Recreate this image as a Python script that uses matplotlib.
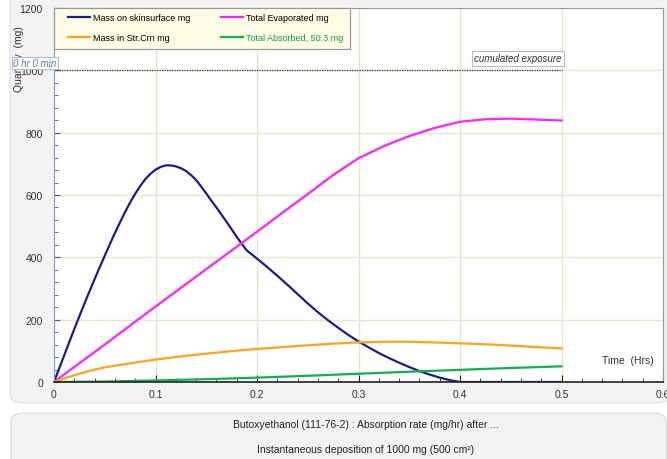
import matplotlib.pyplot as plt
import numpy as np
from matplotlib.patches import FancyBboxPatch, Rectangle
from matplotlib.ticker import MultipleLocator, AutoMinorLocator

plt.rcParams['font.family'] = ['Liberation Sans', 'DejaVu Sans']

# values
t_skin = [0, 0.01, 0.02, 0.03, 0.04, 0.045, 0.05, 0.055, 0.06, 0.065, 0.07, 0.075, 0.08,
          0.085, 0.09, 0.095, 0.10, 0.105, 0.11, 0.115, 0.12, 0.125, 0.13, 0.135, 0.14,
          0.145, 0.15, 0.155, 0.16, 0.165, 0.17, 0.175, 0.18, 0.185, 0.19, 0.20, 0.21,
          0.22, 0.23, 0.24, 0.25, 0.26, 0.27, 0.28, 0.29, 0.30, 0.31, 0.32, 0.33, 0.34,
          0.35, 0.36, 0.37, 0.38, 0.39, 0.40, 0.45, 0.50]
m_skin = [0, 85, 170, 252, 330, 368, 405, 442, 478, 512, 545, 576, 604,
          629, 651, 668, 681, 690, 695, 695, 692, 686, 677, 664, 648,
          627, 605, 582, 560, 537, 514, 490, 466, 443, 422, 396, 369,
          341, 312, 282, 252, 224, 198, 174, 151, 130, 111, 93, 77, 62,
          48, 35, 24, 14, 6, 0, 0, 0]

t_evap = [0, 0.05, 0.10, 0.15, 0.20, 0.225, 0.25, 0.275, 0.30, 0.325, 0.35, 0.375,
          0.40, 0.425, 0.45, 0.475, 0.50]
m_evap = [0, 120, 242, 362, 482, 543, 603, 664, 718, 757, 789, 815,
          835, 843, 845, 842, 839]

t_sc = [0, 0.01, 0.02, 0.03, 0.04, 0.05, 0.075, 0.10, 0.125, 0.15, 0.175, 0.20, 0.225,
        0.25, 0.275, 0.30, 0.325, 0.35, 0.375, 0.40, 0.425, 0.45, 0.475, 0.50]
m_sc = [0, 11, 22, 31, 40, 47, 60, 72, 82, 91, 99, 106, 112,
        118, 123, 127, 129, 129, 127, 124, 121, 117, 112, 108]

t_abs = [0, 0.05, 0.10, 0.15, 0.20, 0.25, 0.30, 0.35, 0.40, 0.45, 0.50]
m_abs = [0, 1.5, 5, 9, 14, 20, 26.5, 33, 39, 45, 50.3]

exposure = 1000
t_end = 0.5

fig = plt.figure(figsize=(6.67, 4.6), dpi=100)

# grey panels behind chart and caption
fig.patches.append(FancyBboxPatch((10 / 667, 56 / 460), 0.99, 0.9, boxstyle="round,pad=0,rounding_size=0.02",
                                  transform=fig.transFigure, facecolor='#f3f3f3', edgecolor='#dddddd',
                                  lw=0.8, zorder=-2))
fig.patches.append(FancyBboxPatch((11 / 667, -0.05), 655 / 667, 0.15, boxstyle="round,pad=0,rounding_size=0.02",
                                  transform=fig.transFigure, facecolor='#f3f3f3', edgecolor='#d8d8d8',
                                  lw=0.8, zorder=-2))

ax = fig.add_axes([54 / 667, 1 - 383 / 460, 609 / 667, 374 / 460])
ax.set_facecolor('white')

l_skin, = ax.plot(t_skin, m_skin, color='#1c1c8a', lw=1.6, label='Mass on skinsurface mg')
l_evap, = ax.plot(t_evap, m_evap, color='#ff22ff', lw=1.6, label='Total Evaporated mg')
l_sc, = ax.plot(t_sc, m_sc, color='#ffa31a', lw=1.6, label='Mass in Str.Crn mg')
l_abs, = ax.plot(t_abs, m_abs, color='#10b050', lw=1.6, label='Total Absorbed, 50.3 mg')
ax.plot([0, t_end], [exposure, exposure], color='#333333', lw=0.9, ls=(0, (1, 1)))

ax.set_xlim(0, 0.6)
ax.set_ylim(0, 1200)
ax.xaxis.set_major_locator(MultipleLocator(0.1))
ax.xaxis.set_minor_locator(AutoMinorLocator(5))
ax.yaxis.set_major_locator(MultipleLocator(200))
ax.yaxis.set_minor_locator(AutoMinorLocator(5))
ax.set_xticks([0, 0.1, 0.2, 0.3, 0.4, 0.5, 0.6], ['0', '0.1', '0.2', '0.3', '0.4', '0.5', '0.6'])

ax.grid(which='major', color='#e2e8c8', lw=1)
ax.set_axisbelow(True)
ax.tick_params(which='both', direction='in', labelsize=7.5, labelcolor='#333333')
ax.tick_params(axis='x', which='major', length=5, color='#222222', pad=5)
ax.tick_params(axis='x', which='minor', length=3, color='#222222')
ax.tick_params(axis='y', which='major', length=4, color='#555555', pad=8)
ax.tick_params(axis='y', which='minor', length=3, color='#555555')
ax.spines['bottom'].set_color('#222222')
ax.spines['bottom'].set_linewidth(1.2)
ax.spines['left'].set_color('#7f9fd8')
ax.spines['left'].set_linestyle((0, (1, 1)))
ax.spines['top'].set_color('#999999')
ax.spines['right'].set_color('#999999')

ax.set_ylabel('Quantity  (mg)', fontsize=7.5, color='#333333')
ax.yaxis.set_label_coords(-0.05, 0.865)
ax.text(0.985, 0.045, 'Time  (Hrs)', transform=ax.transAxes, ha='right', va='bottom',
        fontsize=7.5, color='#333333')

ax.text(t_end, exposure + 22, 'cumulated exposure', ha='right', va='bottom', fontsize=7,
        style='italic', color='#333333',
        bbox=dict(boxstyle='square,pad=0.25', facecolor='white', edgecolor='#bbbbbb', lw=0.8))
fig.text(13 / 667, 1 - 64 / 460, '0 hr 0 min', ha='left', va='center', fontsize=7,
         style='italic', color='#4a78d0', zorder=5,
         bbox=dict(boxstyle='square,pad=0.15', facecolor='white', edgecolor='#bbbbbb', lw=0.8))

# legend box
ax.add_patch(Rectangle((0, 1 - 41 / 374), 296 / 609, 41 / 374, transform=ax.transAxes,
                       facecolor='#fffde6', edgecolor='#999999', lw=0.9, zorder=4, clip_on=False))
leg = ax.legend(handles=[l_skin, l_sc, l_evap, l_abs], ncol=2, loc='upper left',
                bbox_to_anchor=(14 / 609, 1 - 5 / 374), borderaxespad=0, borderpad=0,
                fontsize=6.5, frameon=False, handlelength=2.4, labelspacing=1.25,
                columnspacing=3.4, handletextpad=0.35)
leg.set_zorder(6)
leg.get_texts()[3].set_color('#10a050')
for h in leg.legend_handles:
    h.set_linewidth(1.6)

fig.text(366 / 667, 1 - 425 / 460, 'Butoxyethanol (111-76-2) : Absorption rate (mg/hr) after ...',
         ha='center', va='center', fontsize=7.5, color='#222222')
fig.text(366 / 667, 1 - 450 / 460, 'Instantaneous deposition of 1000 mg (500 cm²)',
         ha='center', va='center', fontsize=7.5, color='#222222')

fig.savefig('out.png', dpi=100)
